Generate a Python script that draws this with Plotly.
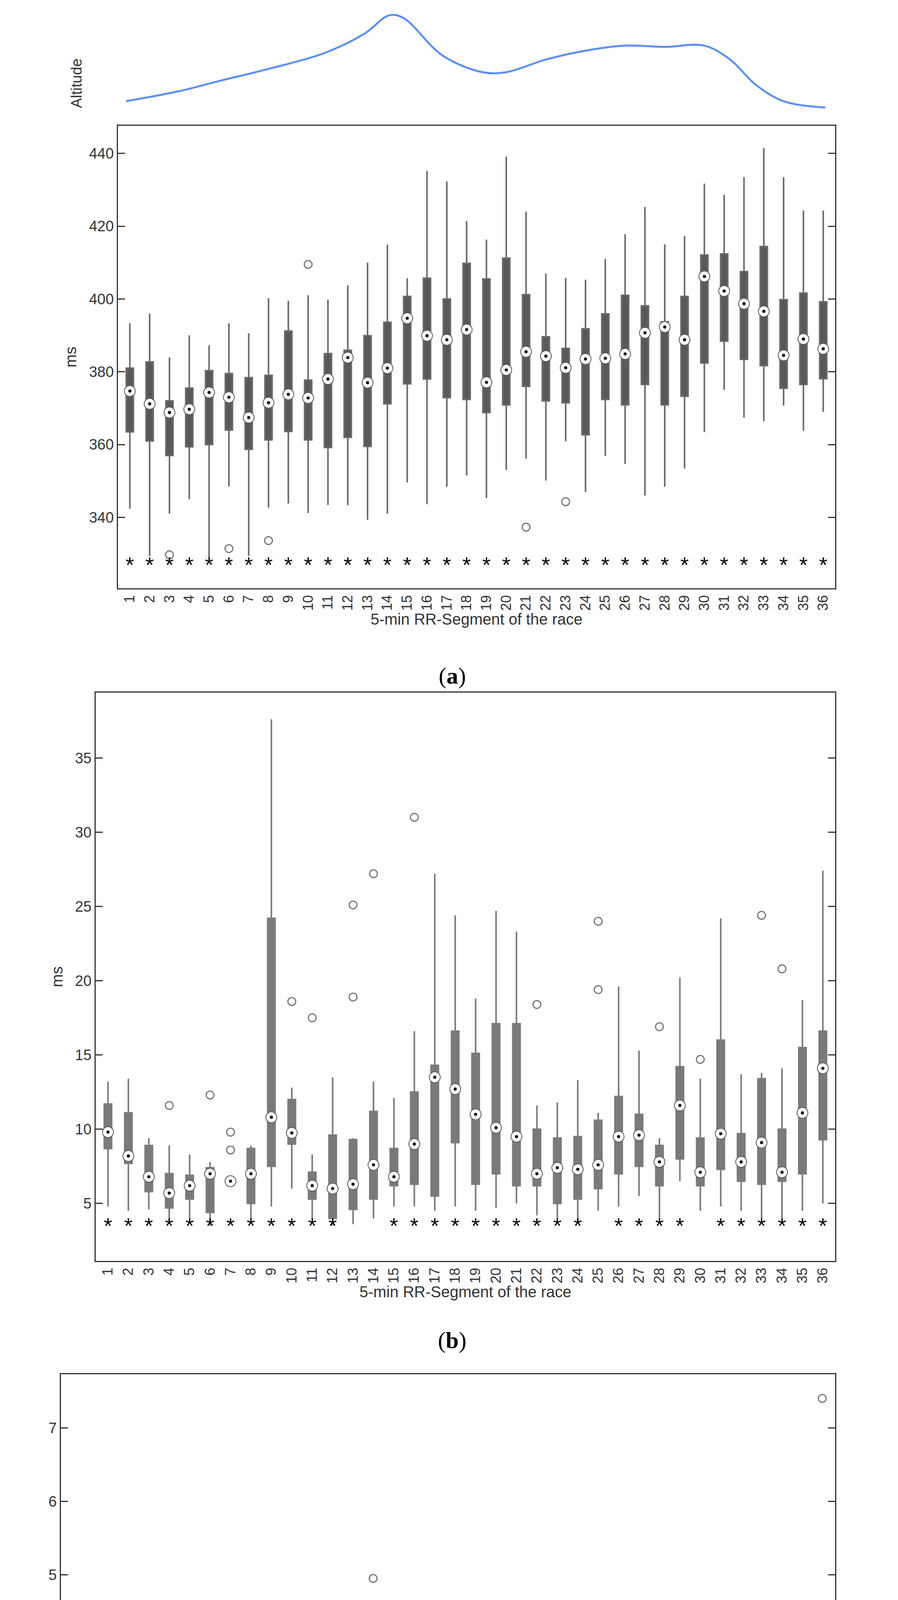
import plotly.graph_objects as go

SEG = list(range(1, 37))
# ---------- altitude profile (relative, no units) ----------
ALT_X = [0.8, 3.5, 5.5, 8.1, 10.8, 12.8, 14.1, 14.8, 16.8, 18.8, 20.0, 22.0, 24.0, 26.0, 28.0, 30.0, 31.3, 32.6, 34.0, 36.1]
ALT_Y = [22, 30, 38, 48, 60, 75, 90, 88, 58, 45, 45, 55, 62, 66, 65, 66, 55, 35, 22, 17]

# ---------- panel (a) ----------
A_HI = [393.3, 396, 384, 390, 387.3, 393.3, 390.6, 400.2, 399.5, 401, 399.8, 403.8, 410, 414.9, 405.7, 435.2, 432.3, 421.4,
        416.3, 439.1, 424, 407, 405.8, 405.3, 411, 417.8, 425.3, 415, 417.3, 431.7, 428.6, 433.5, 441.5, 433.5, 424.3, 424.3]
A_Q3 = [381, 382.7, 372, 375.5, 380.3, 379.5, 378.4, 379, 391.2, 377.7, 385, 385.9, 389.9, 393.6, 400.7, 405.7, 400, 409.8,
        405.5, 411.2, 401.2, 389.6, 386.4, 391.8, 395.9, 401, 398.1, 393.7, 400.7, 412.1, 412.4, 407.5, 414.4, 399.8, 401.6, 399.2]
A_MED = [374.7, 371.2, 368.8, 369.7, 374.3, 373, 367.4, 371.5, 373.8, 372.8, 378, 383.9, 377, 381, 394.7, 389.9, 388.8, 391.6,
         377.1, 380.5, 385.5, 384.3, 381.1, 383.5, 383.7, 384.9, 390.7, 392.3, 388.8, 406.2, 402.2, 398.7, 396.6, 384.5, 389, 386.3]
A_Q1 = [363.5, 361, 357, 359.4, 360, 364, 358.7, 361.3, 363.6, 361.3, 359.2, 362, 359.5, 371.2, 376.7, 378, 372.9, 372.4,
        368.8, 370.9, 376, 372, 371.5, 362.7, 372.4, 370.9, 376.5, 370.9, 373.3, 382.4, 388.4, 383.4, 381.7, 375.5, 376.5, 378.1]
A_LO = [342.4, 329.4, 341, 345, 328.8, 348.5, 329.4, 342.7, 343.8, 341.2, 343.4, 343.3, 339.3, 341, 349.6, 343.6, 348.4, 351.5,
        345.3, 353, 356.1, 350.1, 360.9, 347, 356.9, 354.7, 346, 348.4, 353.4, 363.4, 375, 367.4, 366.4, 370.7, 363.8, 369]
A_OUT_X = [3, 6, 8, 10, 21, 23]
A_OUT_Y = [329.7, 331.4, 333.6, 409.5, 337.3, 344.3]
A_STAR = SEG

# ---------- panel (b) ----------
B_HI = [13.2, 13.4, 9.4, 8.9, 8.3, 7.8, 6.8, 8.9, 37.6, 12.8, 8.3, 13.5, 9.4, 13.2, 12.1, 16.6, 27.2, 24.4,
        18.8, 24.7, 23.3, 11.6, 11.8, 13.3, 11.1, 19.6, 15.3, 9.4, 20.2, 13.4, 24.2, 13.7, 13.8, 14.1, 18.7, 27.4]
B_Q3 = [11.7, 11.1, 8.9, 7.0, 6.9, 7.4, 6.7, 8.7, 24.2, 12.0, 7.1, 9.6, 9.3, 11.2, 8.7, 12.5, 14.3, 16.6,
        15.1, 17.1, 17.1, 10.0, 9.4, 9.5, 10.6, 12.2, 11.0, 8.9, 14.2, 9.4, 16.0, 9.7, 13.4, 10.0, 15.5, 16.6]
B_MED = [9.8, 8.2, 6.8, 5.7, 6.2, 7.0, 6.5, 7.0, 10.8, 9.75, 6.2, 6.0, 6.3, 7.6, 6.8, 9.0, 13.5, 12.7,
         11.0, 10.1, 9.5, 7.0, 7.4, 7.3, 7.6, 9.5, 9.6, 7.8, 11.6, 7.1, 9.7, 7.8, 9.1, 7.1, 11.1, 14.1]
B_Q1 = [8.7, 7.7, 5.8, 4.7, 5.3, 4.4, 6.3, 5.0, 7.5, 9.0, 5.3, 4.0, 4.6, 5.3, 6.2, 6.3, 5.5, 9.1,
        6.3, 7.0, 6.2, 6.2, 5.0, 5.3, 6.0, 7.0, 7.5, 6.2, 8.0, 6.2, 7.3, 6.5, 6.3, 6.5, 7.0, 9.3]
B_LO = [4.8, 4.5, 4.6, 3.8, 4.0, 3.5, 6.2, 4.0, 4.8, 6.0, 4.0, 3.5, 3.6, 4.0, 4.8, 4.8, 4.5, 4.8,
        4.5, 4.7, 5.0, 4.2, 4.0, 3.8, 4.5, 4.8, 5.5, 4.0, 6.5, 4.5, 4.8, 4.5, 4.0, 4.0, 4.5, 5.0]
B_OUT_X = [4, 6, 7, 7, 10, 11, 13, 13, 14, 16, 22, 25, 25, 28, 30, 33, 34]
B_OUT_Y = [11.6, 12.3, 9.8, 8.6, 18.6, 17.5, 25.1, 18.9, 27.2, 31.0, 18.4, 24.0, 19.4, 16.9, 14.7, 24.4, 20.8]
B_STAR = [1, 2, 3, 4, 5, 6, 7, 8, 9, 10, 11, 12, 15, 16, 17, 18, 19, 20, 21, 22, 23, 24,
          26, 27, 28, 29, 31, 32, 33, 34, 35, 36]

# ---------- panel (c) ----------
C_HI = [1.39, 0.91, 0.47, 1.44, 0.78, 1.41, 0.5, 0.85, 0.88, 0.52, 0.4, 0.95, 0.58, 0.48, 0.98, 0.78, 1.36, 2.15,
        0.78, 2.37, 1.88, 0.75, 1.27, 0.45, 0.55, 0.87, 0.7, 0.55, 1.13, 0.6, 1.0, 1.0, 1.08, 2.2, 0.6, 1.18]
C_Q3 = [0.83, 0.65, 0.47, 0.95, 0.63, 1.01, 0.5, 0.55, 0.52, 0.52, 0.4, 0.58, 0.45, 0.46, 0.55, 0.62, 0.83, 1.0,
        0.65, 1.18, 1.23, 0.55, 0.85, 0.4, 0.55, 0.55, 0.4, 0.3, 0.63, 0.58, 0.95, 0.55, 0.9, 1.25, 0.6, 0.88]
C_MED = [0.56, 0.44, 0.3, 0.47, 0.47, 0.33, 0.27, 0.38, 0.43, 0.48, 0.24, 0.43, 0.3, 0.43, 0.34, 0.33, 0.45, 0.43,
         0.38, 0.4, 0.48, 0.43, 0.5, 0.33, 0.38, 0.28, 0.35, 0.26, 0.28, 0.3, 0.4, 0.35, 0.44, 0.5, 0.3, 0.45]
C_Q1 = [0.42, 0.27, 0.19, 0.22, 0.23, 0.25, 0.22, 0.25, 0.27, 0.32, 0.19, 0.25, 0.22, 0.19, 0.24, 0.19, 0.19, 0.15,
        0.2, 0.15, 0.25, 0.3, 0.25, 0.3, 0.2, 0.15, 0.2, 0.2, 0.1, 0.2, 0.25, 0.25, 0.2, 0.2, 0.2, 0.25]
C_LO = [0.19, 0.1, 0.17, 0.15, 0.07, 0.15, 0.07, 0.2, 0.12, 0.09, 0.15, 0.1, 0.1, 0.17, 0.15, 0.07, 0.12, 0.05,
        0.1, 0.05, 0.1, 0.15, 0.1, 0.2, 0.05, 0.05, 0.1, 0.1, 0.02, 0.05, 0.1, 0.1, 0.02, 0.1, 0.1, 0.1]
C_OUT_X = [3, 3, 7, 10, 11, 11, 13, 14, 14, 15, 16, 18, 22, 24, 24, 25, 25, 26, 27, 28, 28, 29, 29, 30, 30, 31, 31, 33, 35, 36]
C_OUT_Y = [1.21, 1.06, 1.2, 1.13, 1.26, 1.13, 0.88, 2.33, 1.22, 4.95, 2.58, 3.4, 1.48, 1.12, 1.0, 3.9, 3.2, 1.7, 1.08,
           1.2, 0.72, 1.35, 0.98, 1.45, 1.2, 2.17, 2.15, 2.45, 2.12, 7.4]
C_STAR = [1, 6, 7, 8, 9, 13, 19, 26, 28, 29, 30, 31, 34]

W, H = 2299, 5346
FONT = "Liberation Sans, Arial, sans-serif"


def ydom(top, bottom):
    return [1 - bottom / H, 1 - top / H]


def xdom(left, right):
    return [left / W, right / W]


fig = go.Figure()

panels = [
    dict(n="2", hi=A_HI, q3=A_Q3, med=A_MED, q1=A_Q1, lo=A_LO, ox=A_OUT_X, oy=A_OUT_Y, star=A_STAR, sy=326.4,
         fill="#595959", wl="#6a6a6a", yr=[320.5, 447.6], tick=[340, 360, 380, 400, 420, 440], yt="ms",
         xd=xdom(294, 2130), yd=ydom(314, 1498), lbl="a", ly=1687),
    dict(n="3", hi=B_HI, q3=B_Q3, med=B_MED, q1=B_Q1, lo=B_LO, ox=B_OUT_X, oy=B_OUT_Y, star=B_STAR, sy=3.37,
         fill="#7a7a7a", wl="#7a7a7a", yr=[1.13, 39.4], tick=[5, 10, 15, 20, 25, 30, 35], yt="ms",
         xd=xdom(237, 2130), yd=ydom(1765, 3220), lbl="b", ly=3423),
    dict(n="4", hi=C_HI, q3=C_Q3, med=C_MED, q1=C_Q1, lo=C_LO, ox=C_OUT_X, oy=C_OUT_Y, star=C_STAR, sy=-0.24,
         fill="#8f8f8f", wl="#8f8f8f", yr=[-0.45, 7.73], tick=[0, 1, 2, 3, 4, 5, 6, 7], yt="n.u.",
         xd=xdom(148, 2130), yd=ydom(3510, 5048), lbl="c", ly=5276),
]

for p in panels:
    xa, ya = "x" + p["n"], "y" + p["n"]
    fig.add_trace(go.Box(x=SEG, q1=p["q1"], median=p["med"], q3=p["q3"], lowerfence=p["lo"], upperfence=p["hi"],
                         xaxis=xa, yaxis=ya, fillcolor=p["fill"], line=dict(color=p["wl"], width=4),
                         whiskerwidth=0, width=0.36, boxpoints=False, showlegend=False, hoverinfo="skip"))
    fig.add_trace(go.Scatter(x=p["ox"], y=p["oy"], mode="markers", xaxis=xa, yaxis=ya, showlegend=False,
                             marker=dict(symbol="circle-open", size=20, color="#777", line=dict(width=3))))
    fig.add_trace(go.Scatter(x=SEG, y=p["med"], mode="markers", xaxis=xa, yaxis=ya, showlegend=False,
                             marker=dict(symbol="circle", size=28, color="white", line=dict(color="#555", width=2))))
    fig.add_trace(go.Scatter(x=SEG, y=p["med"], mode="markers", xaxis=xa, yaxis=ya, showlegend=False,
                             marker=dict(symbol="circle", size=8, color="black")))
    fig.add_trace(go.Scatter(x=p["star"], y=[p["sy"]] * len(p["star"]), mode="text", text=["*"] * len(p["star"]),
                             textfont=dict(size=56, color="black", family=FONT), xaxis=xa, yaxis=ya,
                             showlegend=False))
    fig.layout["xaxis" + p["n"]] = dict(domain=p["xd"], anchor=ya, range=[0.4, 36.6], tickmode="array",
                                        tickvals=SEG, ticktext=[str(s) for s in SEG], tickangle=-90,
                                        showline=True, linecolor="#333", linewidth=3, mirror=True, ticks="",
                                        showgrid=False, zeroline=False,
                                        tickfont=dict(size=36, color="#333", family=FONT),
                                        title=dict(text="5-min RR-Segment of the race", standoff=6,
                                                   font=dict(size=40, color="#333", family=FONT)))
    fig.layout["yaxis" + p["n"]] = dict(domain=p["yd"], anchor=xa, range=p["yr"], tickvals=p["tick"],
                                        showline=True, linecolor="#333", linewidth=3, mirror="ticks",
                                        ticks="inside", ticklen=18, tickwidth=3, tickcolor="#333",
                                        showgrid=False, zeroline=False,
                                        tickfont=dict(size=38, color="#333", family=FONT),
                                        title=dict(text=p["yt"], standoff=20,
                                                   font=dict(size=40, color="#333", family=FONT)))
    fig.add_annotation(x=0.5, y=1 - p["ly"] / H, xref="paper", yref="paper", text="(<b>" + p["lbl"] + "</b>)",
                       showarrow=False, font=dict(size=60, color="black", family="Liberation Serif, Times New Roman"))

# altitude profile
fig.add_trace(go.Scatter(x=ALT_X, y=ALT_Y, mode="lines", line=dict(color="#5b8ff0", width=5, shape="spline"),
                         xaxis="x", yaxis="y", showlegend=False))
fig.update_layout(
    xaxis=dict(domain=xdom(294, 2130), range=[0.4, 36.6], visible=False),
    yaxis=dict(domain=ydom(15, 290), range=[10, 95], visible=False),
)
fig.add_annotation(x=165 / W, y=1 - 140 / H, xref="paper", yref="paper", text="Altitude", textangle=-90,
                   showarrow=False, font=dict(size=38, color="#333", family=FONT))

fig.update_layout(width=W, height=H, margin=dict(l=0, r=0, t=0, b=0), paper_bgcolor="white",
                  plot_bgcolor="white", showlegend=False)
fig.write_html("out.html")
